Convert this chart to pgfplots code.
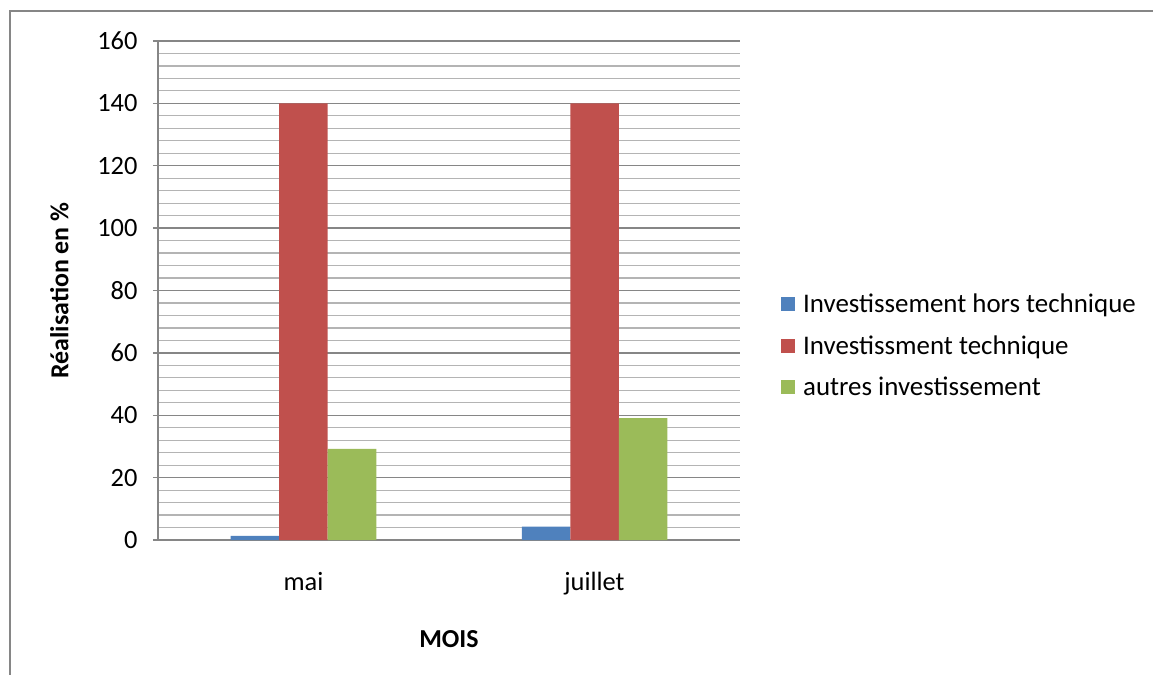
\documentclass[border=0pt]{standalone}
\usepackage{pgfplots}
\pgfplotsset{compat=1.18}
\usepackage{fontspec}
\setmainfont{Carlito}
\usetikzlibrary{calc}
\definecolor{cblue}{HTML}{4F81BD}
\definecolor{cred}{HTML}{C0504D}
\definecolor{cgreen}{HTML}{9BBB59}
\definecolor{axgray}{HTML}{868686}
\definecolor{mingray}{HTML}{B4B4B4}
\begin{document}
\begin{tikzpicture}
\begin{axis}[
  scale only axis,
  width=582bp, height=499bp,
  ybar=0pt, bar width=48.5bp,
  xmin=-0.5, xmax=1.5,
  ymin=0, ymax=160,
  xtick={0,1}, xticklabels={mai,juillet},
  ytick={0,20,...,160},
  minor ytick={0,4,...,160},
  ymajorgrids, yminorgrids,
  major grid style={axgray, line width=1.4bp},
  minor grid style={mingray, line width=1.2bp},
  axis x line*=bottom, axis y line*=left,
  axis line style={axgray, line width=1.5bp, -},
  x axis line style={-}, y axis line style={-},
  tick align=outside,
  major tick length=5bp, minor tick length=0pt,
  ytick style={axgray, line width=1.4bp},
  xtick style={draw=none},
  tick label style={font=\fontsize{26.5}{30}\selectfont},
  /pgf/number format/assume math mode=true,
  yticklabel style={xshift=-12bp},
  xticklabel style={yshift=-24bp},
  xlabel={\textbf{MOIS}},
  ylabel={\textbf{Réalisation en \%}},
  label style={font=\fontsize{26}{30}\selectfont},
  xlabel style={yshift=-28bp},
  ylabel style={yshift=22bp},
  legend style={draw=none, fill=none, at={(rel axis cs:1,0.5)}, anchor=west, xshift=38bp, yshift=-55bp,
    font=\fontsize{27}{32}\selectfont, row sep=17bp, cells={anchor=west}},
  legend image code/.code={\fill[#1] (0bp,-7bp) rectangle (14bp,7bp);},
  legend cell align=left,
  clip=false,
]
\addplot[fill=cblue, draw=none] coordinates {(0,1.3) (1,4.3)};
\addplot[fill=cred, draw=none] coordinates {(0,140) (1,140)};
\addplot[fill=cgreen, draw=none] coordinates {(0,29.2) (1,39.1)};
\legend{\hspace{6bp}Investissement hors technique, \hspace{6bp}Investissment technique, \hspace{6bp}autres investissement}
\coordinate (ll) at (rel axis cs:0,0);
\end{axis}
\draw[axgray, line width=2bp] ($(ll)+(-148bp,-135bp)$) -- ($(ll)+(-148bp,529bp)$) -- ($(ll)+(995bp,529bp)$);
\pgfresetboundingbox
\path[use as bounding box] ($(ll)+(-158bp,-135bp)$) rectangle ($(ll)+(995bp,540bp)$);
\end{tikzpicture}
\end{document}
